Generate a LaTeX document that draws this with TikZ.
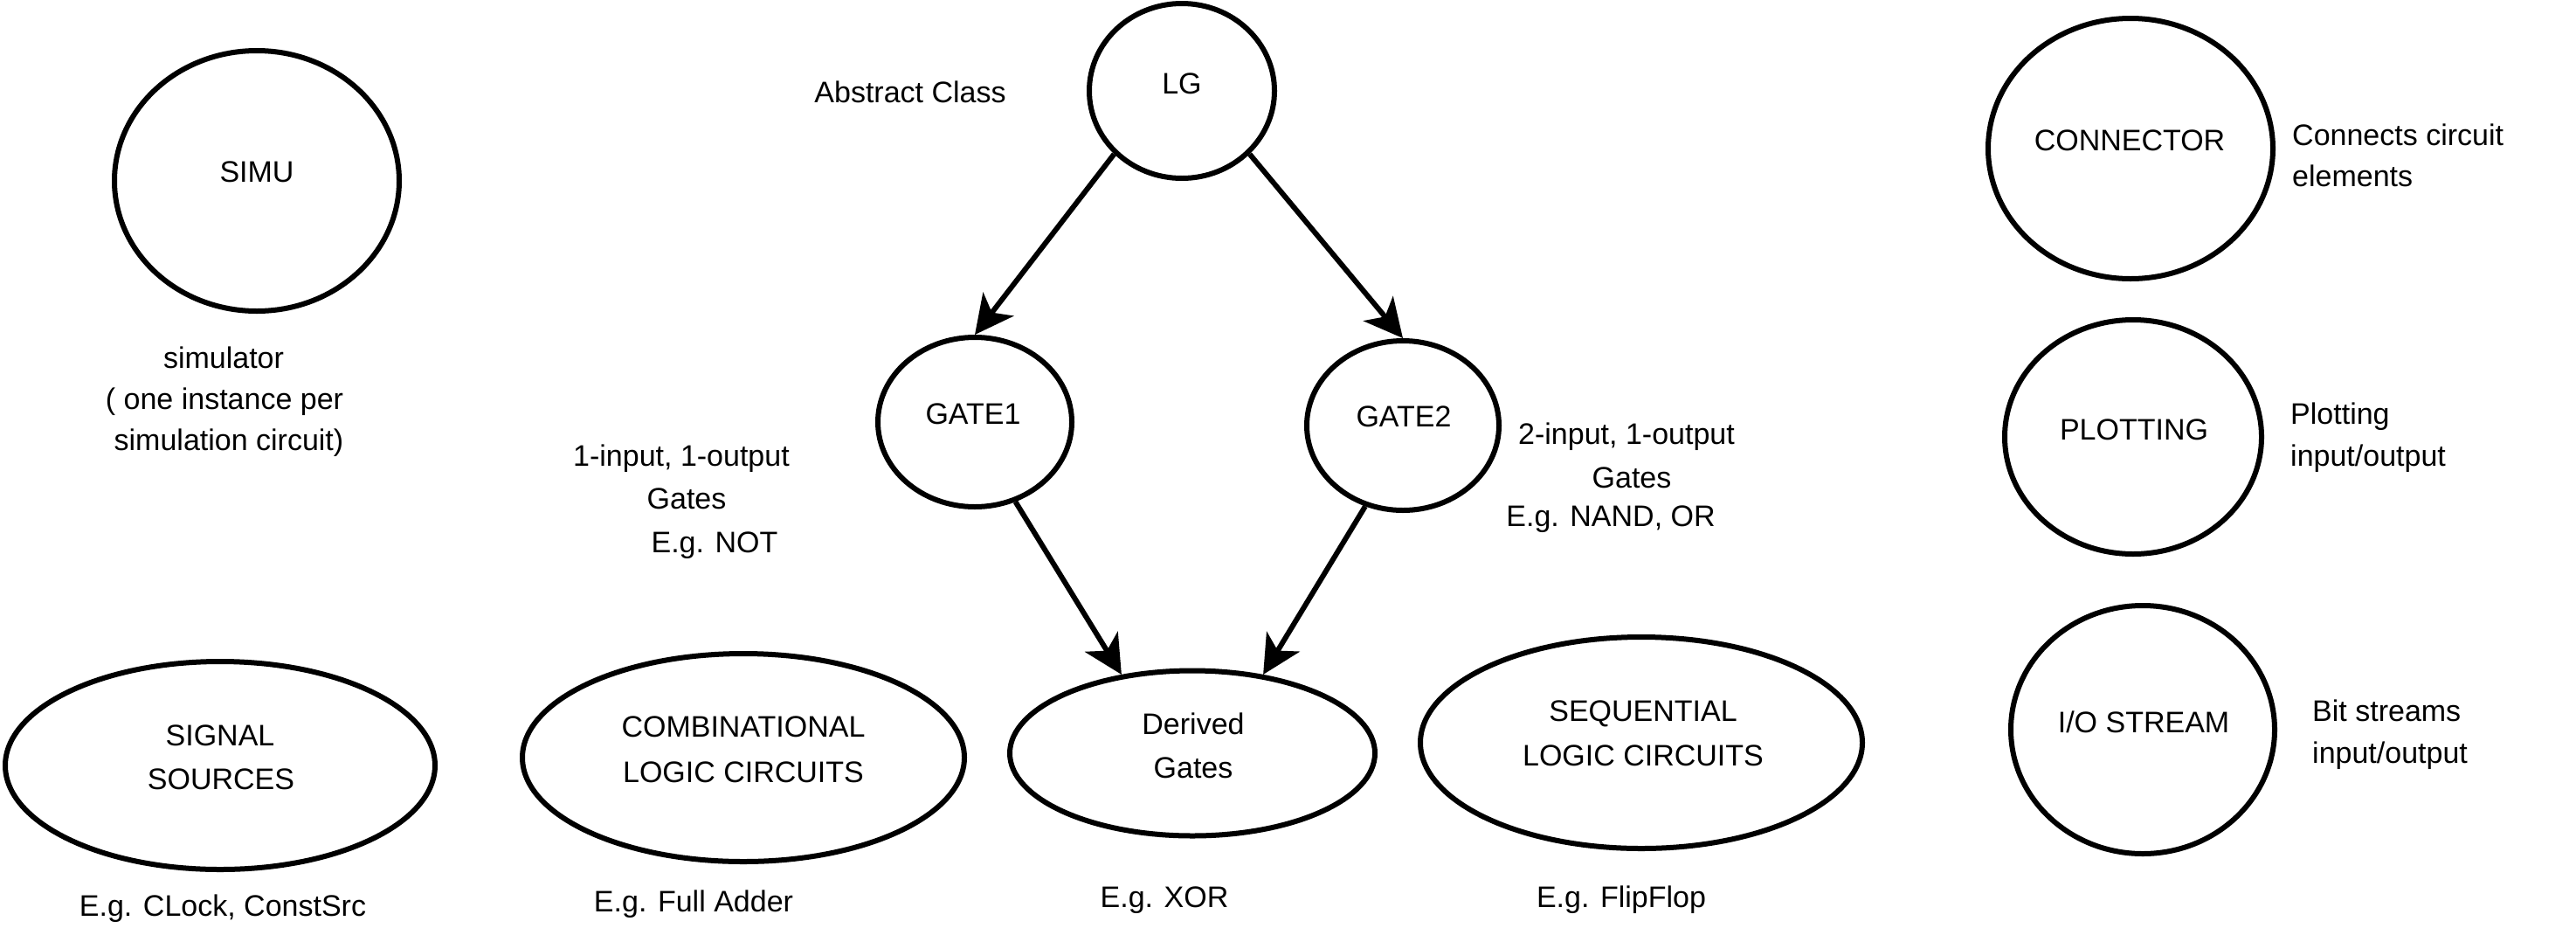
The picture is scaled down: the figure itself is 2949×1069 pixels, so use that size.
\documentclass[tikz,border=0pt]{standalone}
\usepackage{fontspec}
\setmainfont{Liberation Sans}
\usetikzlibrary{shapes.geometric,arrows.meta}
\begin{document}
\begin{tikzpicture}[x=1pt,y=-1pt,
  every node/.style={font=\fontsize{34}{41}\selectfont},
  ell/.style={draw=black, line width=6pt, ellipse, inner sep=0pt},
  txt/.style={anchor=base, inner sep=0pt},
  ltxt/.style={anchor=base west, inner sep=0pt},
  arr/.style={line width=6pt, -{Stealth[length=44pt,width=44pt,inset=12pt]}}]
\useasboundingbox (0,0) rectangle (2949,1069);
% ellipses
\node[ell, minimum width=326pt, minimum height=298pt] (simu) at (294,207) {};
\node[ell, minimum width=212pt, minimum height=200pt] (lg) at (1353,104) {};
\node[ell, minimum width=222pt, minimum height=194pt] (g1) at (1116,483) {};
\node[ell, minimum width=220pt, minimum height=194pt] (g2) at (1606,487) {};
\node[ell, minimum width=492pt, minimum height=238pt] (sig) at (252,876) {};
\node[ell, minimum width=506pt, minimum height=238pt] (comb) at (851,867) {};
\node[ell, minimum width=418pt, minimum height=189pt] (der) at (1365,862) {};
\node[ell, minimum width=506pt, minimum height=242pt] (seq) at (1879,850) {};
\node[ell, minimum width=326pt, minimum height=298pt] (con) at (2439,170) {};
\node[ell, minimum width=294pt, minimum height=268pt] (plot) at (2442,500) {};
\node[ell, minimum width=302pt, minimum height=284pt] (io) at (2453,835) {};
% texts inside
\node[txt] (tsimu) at (294,208) {SIMU};
\node[txt] (tlg) at (1353,107) {LG};
\node[txt] (tg1) at (1114,485) {GATE1};
\node[txt] (tg2) at (1607,488) {GATE2};
\node[txt] (tsig1) at (252,853) {SIGNAL};
\node[txt] (tsig2) at (253,903) {SOURCES};
\node[txt] (tcomb1) at (851,843) {COMBINATIONAL};
\node[txt] (tcomb2) at (851,895) {LOGIC CIRCUITS};
\node[txt] (tder1) at (1366,840) {Derived};
\node[txt] (tder2) at (1366,890) {Gates};
\node[txt] (tseq1) at (1881,825) {SEQUENTIAL};
\node[txt] (tseq2) at (1881,876) {LOGIC CIRCUITS};
\node[txt] (tcon) at (2438,172) {CONNECTOR};
\node[txt] (tplot) at (2443,503) {PLOTTING};
\node[txt] (tio) at (2454,838) {I/O STREAM};
% annotations
\node[txt] (abs) at (1042,117) {Abstract Class};
\node[txt] (sim1) at (256,421) {simulator};
\node[txt] (sim2) at (257,468) {( one instance per};
\node[txt] (sim3) at (262,515) {simulation circuit)};
\node[txt] (a1) at (780,533) {1-input, 1-output};
\node[txt] (a2) at (786,582) {Gates};
\node[txt] (a3) at (818,632) {E.g. NOT};
\node[txt] (b1) at (1862,508) {2-input, 1-output};
\node[txt] (b2) at (1868,558) {Gates};
\node[txt] (b3) at (1844,602) {E.g. NAND, OR};
\node[txt] (esig) at (255,1048) {E.g. CLock, ConstSrc};
\node[txt] (ecomb) at (794,1043) {E.g. Full Adder};
\node[txt] (eder) at (1333,1038) {E.g. XOR};
\node[txt] (eseq) at (1856,1038) {E.g. FlipFlop};
\node[ltxt] (c1) at (2624,166) {Connects circuit};
\node[ltxt] (c2) at (2624,213) {elements};
\node[ltxt] (p1) at (2622,485) {Plotting};
\node[ltxt] (p2) at (2622,533) {input/output};
\node[ltxt] (i1) at (2647,825) {Bit streams};
\node[ltxt] (i2) at (2647,873) {input/output};
% arrows
\draw[arr] (lg.-137) -- (g1.north);
\draw[arr] (lg.-43) -- (g2.north);
\draw[arr] (g1.-63) -- (der.132);
\draw[arr] (g2.-115) -- (der.48);
\end{tikzpicture}
\end{document}
